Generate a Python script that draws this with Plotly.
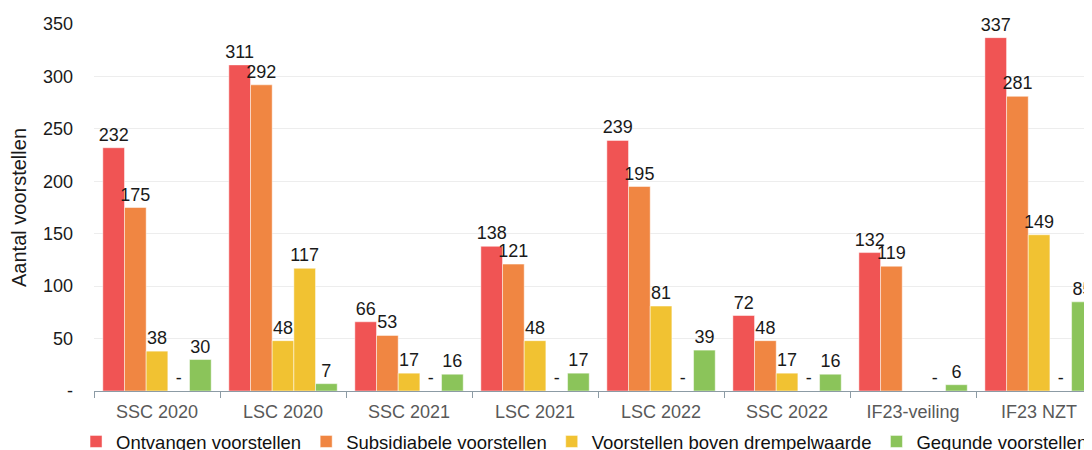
import plotly.graph_objects as go

categories = ["SSC 2020", "LSC 2020", "SSC 2021", "LSC 2021", "LSC 2022", "SSC 2022", "IF23-veiling", "IF23 NZT"]
ontvangen = [232, 311, 66, 138, 239, 72, 132, 337]
subsidiabel = [175, 292, 53, 121, 195, 48, 119, 281]
drempel = [38, 48, 17, 48, 81, 17, None, 149]
drempel_extra = [0, 117, 0, 0, 0, 0, 0, 0]
gegund = [30, 7, 16, 17, 39, 16, 6, 85]

y_ticks = [0, 50, 100, 150, 200, 250, 300, 350]
y_ticktext = ["-", "50", "100", "150", "200", "250", "300", "350"]

series = [
    ("Ontvangen voorstellen", ontvangen, "#F05454", True),
    ("Subsidiabele voorstellen", subsidiabel, "#F08642", True),
    ("Voorstellen boven drempelwaarde", drempel, "#F1C232", True),
    ("Voorstellen boven drempelwaarde (2)", drempel_extra, "#F1C232", False),
    ("Gegunde voorstellen", gegund, "#8BC45A", True),
]

FONT = "Liberation Sans, Arial, sans-serif"


def label(v):
    if v is None:
        return ""
    if v == 0:
        return "-"
    return str(v)


fig = go.Figure()
for name, vals, color, show in series:
    fig.add_trace(go.Bar(
        x=categories, y=vals, name=name,
        marker=dict(color=color, line=dict(color="rgba(255,255,255,0.6)", width=0.8)),
        text=[label(v) for v in vals], textposition="outside",
        textfont=dict(family=FONT, size=18, color="#1a1a1a"),
        cliponaxis=False, showlegend=show,
    ))

fig.update_layout(
    width=1092, height=450,
    margin=dict(l=86, r=8, t=16, b=67, autoexpand=False),
    paper_bgcolor="white", plot_bgcolor="white",
    barmode="group", bargap=0.14, bargroupgap=0,
    uniformtext=dict(minsize=18, mode="show"),
    font=dict(family=FONT, size=18, color="#1a1a1a"),
    legend=dict(orientation="h", x=-0.018, xanchor="left", y=-0.087, yanchor="top",
                font=dict(family=FONT, size=18.5, color="#111111"),
                itemwidth=30, tracegroupgap=0, traceorder="normal"),
    showlegend=True,
)

fig.update_xaxes(
    range=[-0.5, 7.42], type="category", automargin=False,
    showline=True, linecolor="#8C9BA5", linewidth=1,
    ticks="outside", tickson="boundaries", ticklen=6, tickcolor="#8C9BA5",
    tickfont=dict(family=FONT, size=18, color="#595959"),
    ticklabelstandoff=4,
    showgrid=False,
)
fig.update_yaxes(
    range=[0, 350], tickvals=y_ticks, ticktext=y_ticktext, automargin=False,
    showgrid=True, gridcolor="#EDEDED", gridwidth=1, zeroline=False,
    tickfont=dict(family=FONT, size=18, color="#1a1a1a"),
    ticklabelstandoff=20,
    title=dict(text="Aantal voorstellen", standoff=10,
               font=dict(family=FONT, size=20, color="#1a1a1a")),
)

fig.write_html("out.html")
